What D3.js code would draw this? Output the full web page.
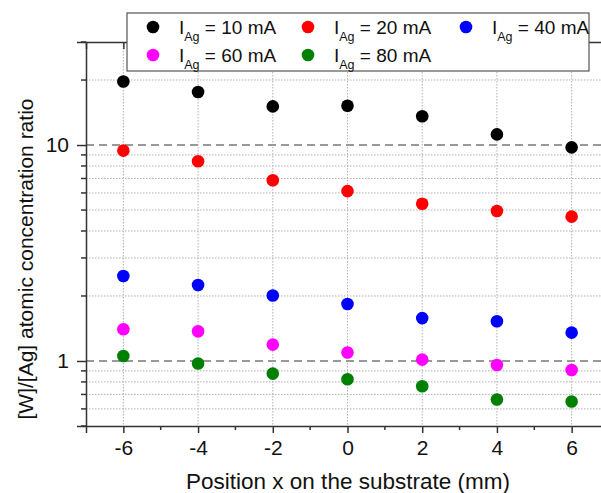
<!DOCTYPE html>
<html><head><meta charset="utf-8">
<script src="https://cdnjs.cloudflare.com/ajax/libs/d3/7.8.5/d3.min.js"></script>
<style>body{margin:0;background:#fff}svg{display:block;font-family:"Liberation Sans",Arial,sans-serif}</style>
</head><body><svg id="c" width="601" height="493"></svg>
<script>
const positions = [-6, -4, -2, 0, 2, 4, 6];
const seriesLabels = ["10", "20", "40", "60", "80"];
const seriesColors = ["#000000", "#ff0000", "#0000ff", "#ff00ff", "#008000"];
const s10 = [19.7, 17.6, 15.1, 15.2, 13.6, 11.2, 9.75];
const s20 = [9.42, 8.41, 6.87, 6.12, 5.35, 4.95, 4.66];
const s40 = [2.475, 2.25, 2.01, 1.836, 1.58, 1.527, 1.353];
const s60 = [1.402, 1.372, 1.191, 1.094, 1.015, 0.958, 0.908];
const s80 = [1.055, 0.973, 0.874, 0.823, 0.764, 0.663, 0.649];
const allSeries = [s10, s20, s40, s60, s80];
const xTicks = [-6, -4, -2, 0, 2, 4, 6];
const xMinor = [-5, -3, -1, 1, 3, 5];
const yMajor = [1, 10];
const yMinor = [0.5, 0.6, 0.7, 0.8, 0.9, 2, 3, 4, 5, 6, 7, 8, 9, 20, 30];

const svg = d3.select("#c");
const L = 86, T = 42, B = 426, R = 609;
const x = d3.scaleLinear().domain([-7, 7]).range([L, R]);
const y = d3.scaleLog().domain([0.5, 30]).range([B, T]);

// grid
const g = svg.append("g");
g.selectAll(".vg").data(xTicks).enter().append("line")
  .attr("x1", d => x(d)).attr("x2", d => x(d)).attr("y1", T).attr("y2", B)
  .attr("stroke", "#b0b0b0").attr("stroke-width", 1).attr("stroke-dasharray", "1.5,1.5");
g.selectAll(".hg").data(yMinor.filter(v => v > 0.5 && v < 30)).enter().append("line")
  .attr("x1", L).attr("x2", 601).attr("y1", d => y(d)).attr("y2", d => y(d))
  .attr("stroke", "#b0b0b0").attr("stroke-width", 1).attr("stroke-dasharray", "1.5,1.5");
g.selectAll(".dg").data(yMajor).enter().append("line")
  .attr("x1", L).attr("x2", 601).attr("y1", d => y(d)).attr("y2", d => y(d))
  .attr("stroke", "#999").attr("stroke-width", 2).attr("stroke-dasharray", "8,5");

// axes
const xAxis = d3.axisBottom(x).tickValues(xTicks).tickSize(7).tickPadding(7).tickFormat(d => String(d));
const gx = svg.append("g").attr("transform", `translate(0,${B})`).call(xAxis);
gx.selectAll(".tick line").attr("stroke", "#333").attr("stroke-width", 1.5);
gx.append("g").selectAll("line").data(xMinor).enter().append("line")
  .attr("x1", d => x(d)).attr("x2", d => x(d)).attr("y1", 0).attr("y2", 4)
  .attr("stroke", "#333").attr("stroke-width", 1.5);
const xTop = d3.axisTop(x).tickValues(xTicks).tickSize(-7).tickFormat("");
const gxt = svg.append("g").attr("transform", `translate(0,${T})`).call(xTop);
gxt.selectAll(".tick line").attr("stroke", "#333").attr("stroke-width", 1.5);

const yAxis = d3.axisLeft(y).tickValues(yMajor).tickSize(9).tickPadding(8).tickFormat(d => String(d));
const gy = svg.append("g").attr("transform", `translate(${L},0)`).call(yAxis);
gy.selectAll(".tick line").attr("stroke", "#333").attr("stroke-width", 1.5);
gy.append("g").selectAll("line").data(yMinor).enter().append("line")
  .attr("x1", -5).attr("x2", 0).attr("y1", d => y(d)).attr("y2", d => y(d))
  .attr("stroke", "#333").attr("stroke-width", 1.5);
[gx, gy, gxt].forEach(a => {
  a.select(".domain").attr("stroke", "#333").attr("stroke-width", 1.5);
  a.selectAll("text").attr("font-size", 21).attr("fill", "#111").attr("font-family", "Liberation Sans, Arial, sans-serif");
});

// points
allSeries.forEach((s, i) => {
  svg.append("g").selectAll("circle").data(s).enter().append("circle")
    .attr("cx", (d, j) => x(positions[j])).attr("cy", d => y(d)).attr("r", 6.3)
    .attr("fill", seriesColors[i]);
});

// legend
const lg = svg.append("g");
lg.append("rect").attr("x", 127).attr("y", 13).attr("width", 462).attr("height", 58)
  .attr("fill", "#fff").attr("stroke", "#555").attr("stroke-width", 1.2);
const colX = [153, 308, 466];
const rowY = [27, 55];
seriesLabels.forEach((lab, i) => {
  const cx = colX[i % 3], cy = rowY[Math.floor(i / 3)];
  lg.append("circle").attr("cx", cx).attr("cy", cy).attr("r", 6.3).attr("fill", seriesColors[i]);
  const t = lg.append("text").attr("x", cx + 26).attr("y", cy + 7).attr("font-size", 19).attr("fill", "#111");
  t.append("tspan").text("I");
  t.append("tspan").attr("font-size", 12.5).attr("dy", 7).text("Ag");
  t.append("tspan").attr("dy", -7).text(` = ${lab} mA`);
});

// titles
svg.append("text").attr("x", 348).attr("y", 489).attr("text-anchor", "middle")
  .attr("font-size", 22.5).attr("fill", "#111").text("Position x on the substrate (mm)");
svg.append("text").attr("transform", "translate(33,259) rotate(-90)").attr("text-anchor", "middle")
  .attr("font-size", 21).attr("fill", "#111").text("[W]/[Ag] atomic concentration ratio");
</script></body></html>
